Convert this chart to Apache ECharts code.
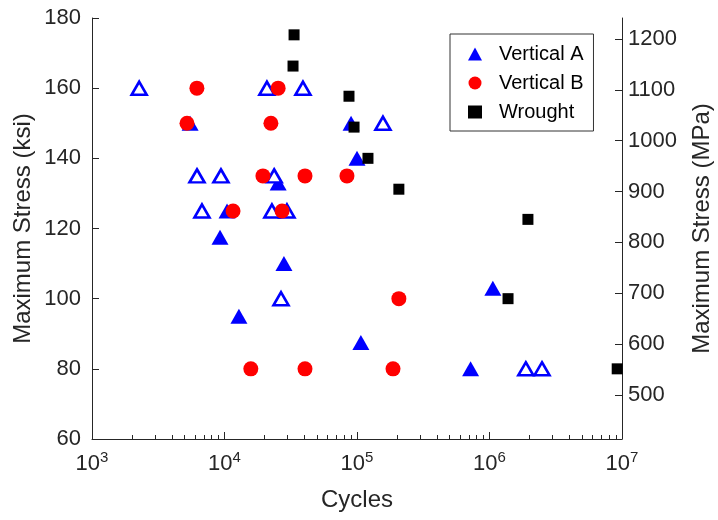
<!DOCTYPE html>
<html>
<head>
<meta charset="utf-8">
<script src="https://cdn.jsdelivr.net/npm/echarts@6/dist/echarts.min.js"></script>
<style>
  html, body { margin: 0; padding: 0; background: #fff; overflow: hidden; }
  #chart { width: 718px; height: 520px; }
</style>
</head>
<body>
<div id="chart"></div>
<script>
// Fatigue results: [cycles to failure, maximum stress in ksi]
const verticalAFailed = [
  [5500, 150], [9250, 117.5], [10450, 125], [12850, 95], [28100, 110],
  [25400, 133], [100000, 140], [90200, 150], [107000, 87.5],
  [1060000, 103], [720000, 80]
];
// Vertical A specimens that ran out (drawn hollow)
const verticalARunout = [
  [2270, 160], [6200, 135], [9400, 135], [6760, 125], [22800, 125],
  [29600, 125], [23700, 135], [26700, 100], [20900, 160], [39100, 160],
  [157000, 150], [1880000, 80], [2490000, 80]
];
const verticalB = [
  [6190, 160], [5210, 150], [25400, 160], [22400, 150], [19500, 135],
  [40500, 135], [84000, 135], [11600, 125], [27200, 125], [15800, 80],
  [40500, 80], [187000, 80], [207000, 100]
];
const wrought = [
  [33500, 175.2], [32900, 166.3], [87000, 157.7], [95000, 148.9],
  [121000, 140], [207000, 131.2], [1950000, 122.6], [1380000, 100],
  [9200000, 80]
];

const ksiRange = [60, 180];
const ksiToMPa = 6.89476;
const mpaTicks = [500, 600, 700, 800, 900, 1000, 1100, 1200];
const cycleDecades = [3, 4, 5, 6, 7];
const minorMultipliers = [2, 3, 4, 5, 6, 7, 8, 9];

const axisColor = '#262626';
const font = 'Liberation Sans, Arial, Helvetica, sans-serif';

// minor tick positions in decade units for the helper axis
const minorTickPos = [];
cycleDecades.slice(0, -1).forEach(d => {
  minorMultipliers.forEach(m => minorTickPos.push(d + Math.log10(m)));
});

const blue = '#0000ff';
const aData = verticalAFailed.map(p => ({ value: p }))
  .concat(verticalARunout.map(p => ({
    value: p,
    symbolSize: [15, 13],
    itemStyle: { color: '#ffffff', borderColor: blue, borderWidth: 2.6 }
  })));

const chart = echarts.init(document.getElementById('chart'), null,
  { renderer: 'canvas', width: 718, height: 520 });

chart.setOption({
  animation: false,
  backgroundColor: '#ffffff',
  textStyle: { fontFamily: font },
  grid: { left: 92, right: 96, top: 18, bottom: 81, containLabel: false, outerBoundsMode: 'none' },
  legend: {
    left: 450, top: 34, width: 147,
    orient: 'vertical',
    padding: [10, 10, 9, 18],
    itemGap: 9,
    itemWidth: 14, itemHeight: 13,
    borderColor: '#333333', borderWidth: 1,
    backgroundColor: '#ffffff',
    textStyle: { fontFamily: font, fontSize: 20, color: '#000', padding: [0, 0, 0, 12] },
    data: [
      { name: 'Vertical A', icon: 'triangle' },
      { name: 'Vertical B', icon: 'circle' },
      { name: 'Wrought', icon: 'rect', itemStyle: { color: '#000' } }
    ]
  },
  xAxis: [
    {
      type: 'log', logBase: 10, min: 1e3, max: 1e7, splitNumber: 4,
      name: 'Cycles', nameLocation: 'middle', nameGap: 49, nameMoveOverlap: false,
      nameTextStyle: { fontSize: 24, color: axisColor, fontFamily: font },
      axisLine: { lineStyle: { color: axisColor, width: 1 } },
      axisTick: { inside: true, length: 7, lineStyle: { color: axisColor } },
      splitLine: { show: false },
      axisLabel: {
        margin: 11, color: axisColor,
        formatter: v => '{b|10}{s|' + Math.round(Math.log10(v)) + '}',
        rich: {
          b: { fontSize: 22, fontFamily: font, color: axisColor },
          s: { fontSize: 15, fontFamily: font, color: axisColor, padding: [0, 0, 12, 0] }
        }
      }
    },
    {
      // helper axis carrying the minor log ticks
      type: 'value', min: 3, max: 7, position: 'bottom',
      axisLine: { show: false },
      axisLabel: { show: false },
      splitLine: { show: false },
      axisTick: { inside: true, length: 4, customValues: minorTickPos, lineStyle: { color: axisColor } }
    }
  ],
  yAxis: [
    {
      type: 'value', min: ksiRange[0], max: ksiRange[1], interval: 20,
      name: 'Maximum Stress (ksi)', nameLocation: 'middle', nameGap: 57, nameRotate: 90,
      nameMoveOverlap: false,
      nameTextStyle: { fontSize: 24, color: axisColor, fontFamily: font },
      axisLine: { show: true, lineStyle: { color: axisColor, width: 1 } },
      axisTick: { show: true, inside: true, length: 7, lineStyle: { color: axisColor } },
      splitLine: { show: false },
      axisLabel: { fontSize: 22, color: axisColor, margin: 11 }
    },
    {
      type: 'value', position: 'right',
      min: ksiRange[0] * ksiToMPa, max: ksiRange[1] * ksiToMPa,
      name: 'Maximum Stress (MPa)', nameLocation: 'middle', nameGap: 68, nameRotate: 90,
      nameMoveOverlap: false,
      nameTextStyle: { fontSize: 24, color: axisColor, fontFamily: font },
      axisLine: { show: true, lineStyle: { color: axisColor, width: 1 } },
      axisTick: { show: true, inside: true, length: 7, customValues: mpaTicks, lineStyle: { color: axisColor } },
      splitLine: { show: false },
      axisLabel: {
        fontSize: 22, color: axisColor, margin: 6, customValues: mpaTicks,
        formatter: v => String(Math.round(v))
      }
    }
  ],
  series: [
    {
      name: 'Vertical A', type: 'scatter', xAxisIndex: 0, yAxisIndex: 0,
      symbol: 'triangle', symbolSize: [17, 15],
      itemStyle: { color: blue, opacity: 1 },
      data: aData
    },
    {
      name: 'Vertical B', type: 'scatter', xAxisIndex: 0, yAxisIndex: 0,
      symbol: 'circle', symbolSize: 15,
      itemStyle: { color: '#ff0000', opacity: 1 },
      data: verticalB
    },
    {
      name: 'Wrought', type: 'scatter', xAxisIndex: 0, yAxisIndex: 0,
      symbol: 'rect', symbolSize: 11,
      itemStyle: { color: '#000000', opacity: 1 },
      data: wrought
    }
  ]
});
</script>
</body>
</html>
